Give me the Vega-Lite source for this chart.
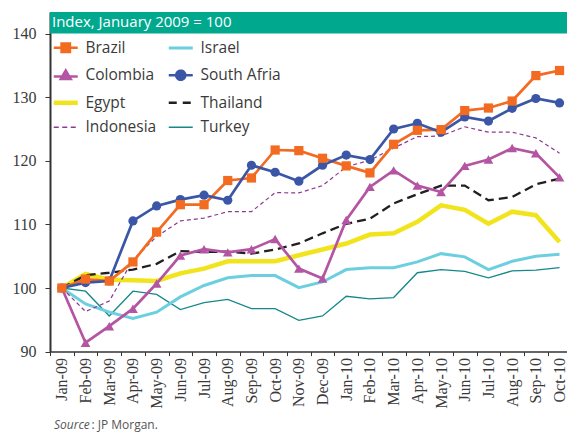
{
"$schema": "https://vega.github.io/schema/vega-lite/v6.json",
"width": 521.4,
"height": 339.6,
"autosize": {"type": "none"},
"padding": {"left": 50, "top": 12, "right": 0, "bottom": 82},
"background": "white",
"title": {"text": "Effective Exchange Rate for selected countries", "anchor": "start", "frame": "group", "orient": "top", "offset": 4, "baseline": "alphabetic", "font": "Open Sans", "fontSize": 17, "fontWeight": "bold", "color": "#231F20", "dx": 3},
"config": {"view": {"stroke": null}, "font": "Open Sans"},
"data": {"values": [
{"m":"Jan-09","s":"Brazil","v":100},{"m":"Feb-09","s":"Brazil","v":101.4},{"m":"Mar-09","s":"Brazil","v":101.1},{"m":"Apr-09","s":"Brazil","v":104.1},{"m":"May-09","s":"Brazil","v":108.8},{"m":"Jun-09","s":"Brazil","v":113.1},{"m":"Jul-09","s":"Brazil","v":113.1},{"m":"Aug-09","s":"Brazil","v":116.9},{"m":"Sep-09","s":"Brazil","v":117.3},{"m":"Oct-09","s":"Brazil","v":121.7},{"m":"Nov-09","s":"Brazil","v":121.6},{"m":"Dec-09","s":"Brazil","v":120.4},{"m":"Jan-10","s":"Brazil","v":119.2},{"m":"Feb-10","s":"Brazil","v":118.1},{"m":"Mar-10","s":"Brazil","v":122.6},{"m":"Apr-10","s":"Brazil","v":124.8},{"m":"May-10","s":"Brazil","v":124.9},{"m":"Jun-10","s":"Brazil","v":127.9},{"m":"Jul-10","s":"Brazil","v":128.3},{"m":"Aug-10","s":"Brazil","v":129.4},{"m":"Sep-10","s":"Brazil","v":133.4},{"m":"Oct-10","s":"Brazil","v":134.2},
{"m":"Jan-09","s":"South Afria","v":100},{"m":"Feb-09","s":"South Afria","v":100.85},{"m":"Mar-09","s":"South Afria","v":101.1},{"m":"Apr-09","s":"South Afria","v":110.55},{"m":"May-09","s":"South Afria","v":112.9},{"m":"Jun-09","s":"South Afria","v":113.9},{"m":"Jul-09","s":"South Afria","v":114.6},{"m":"Aug-09","s":"South Afria","v":113.8},{"m":"Sep-09","s":"South Afria","v":119.3},{"m":"Oct-09","s":"South Afria","v":118.2},{"m":"Nov-09","s":"South Afria","v":116.8},{"m":"Dec-09","s":"South Afria","v":119.3},{"m":"Jan-10","s":"South Afria","v":120.9},{"m":"Feb-10","s":"South Afria","v":120.2},{"m":"Mar-10","s":"South Afria","v":125.0},{"m":"Apr-10","s":"South Afria","v":125.9},{"m":"May-10","s":"South Afria","v":124.5},{"m":"Jun-10","s":"South Afria","v":126.9},{"m":"Jul-10","s":"South Afria","v":126.25},{"m":"Aug-10","s":"South Afria","v":128.25},{"m":"Sep-10","s":"South Afria","v":129.8},{"m":"Oct-10","s":"South Afria","v":129.1},
{"m":"Jan-09","s":"Colombia","v":100},{"m":"Feb-09","s":"Colombia","v":91.4},{"m":"Mar-09","s":"Colombia","v":94.0},{"m":"Apr-09","s":"Colombia","v":96.75},{"m":"May-09","s":"Colombia","v":100.7},{"m":"Jun-09","s":"Colombia","v":105.1},{"m":"Jul-09","s":"Colombia","v":106.1},{"m":"Aug-09","s":"Colombia","v":105.6},{"m":"Sep-09","s":"Colombia","v":106.1},{"m":"Oct-09","s":"Colombia","v":107.7},{"m":"Nov-09","s":"Colombia","v":103.05},{"m":"Dec-09","s":"Colombia","v":101.5},{"m":"Jan-10","s":"Colombia","v":110.7},{"m":"Feb-10","s":"Colombia","v":115.9},{"m":"Mar-10","s":"Colombia","v":118.5},{"m":"Apr-10","s":"Colombia","v":116.1},{"m":"May-10","s":"Colombia","v":115.1},{"m":"Jun-10","s":"Colombia","v":119.2},{"m":"Jul-10","s":"Colombia","v":120.2},{"m":"Aug-10","s":"Colombia","v":122.0},{"m":"Sep-10","s":"Colombia","v":121.2},{"m":"Oct-10","s":"Colombia","v":117.4},
{"m":"Jan-09","s":"Egypt","v":100},{"m":"Feb-09","s":"Egypt","v":102.2},{"m":"Mar-09","s":"Egypt","v":101.3},{"m":"Apr-09","s":"Egypt","v":101.2},{"m":"May-09","s":"Egypt","v":101.1},{"m":"Jun-09","s":"Egypt","v":102.3},{"m":"Jul-09","s":"Egypt","v":103.05},{"m":"Aug-09","s":"Egypt","v":104.2},{"m":"Sep-09","s":"Egypt","v":104.2},{"m":"Oct-09","s":"Egypt","v":104.2},{"m":"Nov-09","s":"Egypt","v":105.15},{"m":"Dec-09","s":"Egypt","v":106.05},{"m":"Jan-10","s":"Egypt","v":107.0},{"m":"Feb-10","s":"Egypt","v":108.4},{"m":"Mar-10","s":"Egypt","v":108.6},{"m":"Apr-10","s":"Egypt","v":110.4},{"m":"May-10","s":"Egypt","v":113.0},{"m":"Jun-10","s":"Egypt","v":112.3},{"m":"Jul-10","s":"Egypt","v":110.1},{"m":"Aug-10","s":"Egypt","v":112.0},{"m":"Sep-10","s":"Egypt","v":111.45},{"m":"Oct-10","s":"Egypt","v":107.25},
{"m":"Jan-09","s":"Israel","v":100},{"m":"Feb-09","s":"Israel","v":97.5},{"m":"Mar-09","s":"Israel","v":96.2},{"m":"Apr-09","s":"Israel","v":95.2},{"m":"May-09","s":"Israel","v":96.2},{"m":"Jun-09","s":"Israel","v":98.6},{"m":"Jul-09","s":"Israel","v":100.4},{"m":"Aug-09","s":"Israel","v":101.6},{"m":"Sep-09","s":"Israel","v":101.95},{"m":"Oct-09","s":"Israel","v":101.95},{"m":"Nov-09","s":"Israel","v":100.05},{"m":"Dec-09","s":"Israel","v":100.95},{"m":"Jan-10","s":"Israel","v":102.9},{"m":"Feb-10","s":"Israel","v":103.2},{"m":"Mar-10","s":"Israel","v":103.2},{"m":"Apr-10","s":"Israel","v":104.1},{"m":"May-10","s":"Israel","v":105.4},{"m":"Jun-10","s":"Israel","v":104.9},{"m":"Jul-10","s":"Israel","v":102.9},{"m":"Aug-10","s":"Israel","v":104.2},{"m":"Sep-10","s":"Israel","v":105.0},{"m":"Oct-10","s":"Israel","v":105.3},
{"m":"Jan-09","s":"Turkey","v":100},{"m":"Feb-09","s":"Turkey","v":99.5},{"m":"Mar-09","s":"Turkey","v":95.6},{"m":"Apr-09","s":"Turkey","v":99.5},{"m":"May-09","s":"Turkey","v":99.0},{"m":"Jun-09","s":"Turkey","v":96.6},{"m":"Jul-09","s":"Turkey","v":97.7},{"m":"Aug-09","s":"Turkey","v":98.2},{"m":"Sep-09","s":"Turkey","v":96.75},{"m":"Oct-09","s":"Turkey","v":96.75},{"m":"Nov-09","s":"Turkey","v":94.9},{"m":"Dec-09","s":"Turkey","v":95.6},{"m":"Jan-10","s":"Turkey","v":98.7},{"m":"Feb-10","s":"Turkey","v":98.3},{"m":"Mar-10","s":"Turkey","v":98.5},{"m":"Apr-10","s":"Turkey","v":102.4},{"m":"May-10","s":"Turkey","v":102.9},{"m":"Jun-10","s":"Turkey","v":102.6},{"m":"Jul-10","s":"Turkey","v":101.6},{"m":"Aug-10","s":"Turkey","v":102.7},{"m":"Sep-10","s":"Turkey","v":102.8},{"m":"Oct-10","s":"Turkey","v":103.2},
{"m":"Jan-09","s":"Thailand","v":100},{"m":"Feb-09","s":"Thailand","v":102.0},{"m":"Mar-09","s":"Thailand","v":102.4},{"m":"Apr-09","s":"Thailand","v":102.9},{"m":"May-09","s":"Thailand","v":103.8},{"m":"Jun-09","s":"Thailand","v":105.8},{"m":"Jul-09","s":"Thailand","v":105.7},{"m":"Aug-09","s":"Thailand","v":105.7},{"m":"Sep-09","s":"Thailand","v":105.4},{"m":"Oct-09","s":"Thailand","v":106.05},{"m":"Nov-09","s":"Thailand","v":107.0},{"m":"Dec-09","s":"Thailand","v":108.6},{"m":"Jan-10","s":"Thailand","v":110.1},{"m":"Feb-10","s":"Thailand","v":110.9},{"m":"Mar-10","s":"Thailand","v":113.3},{"m":"Apr-10","s":"Thailand","v":114.75},{"m":"May-10","s":"Thailand","v":116.1},{"m":"Jun-10","s":"Thailand","v":116.1},{"m":"Jul-10","s":"Thailand","v":113.8},{"m":"Aug-10","s":"Thailand","v":114.3},{"m":"Sep-10","s":"Thailand","v":116.3},{"m":"Oct-10","s":"Thailand","v":117.2},
{"m":"Jan-09","s":"Indonesia","v":100},{"m":"Feb-09","s":"Indonesia","v":96.3},{"m":"Mar-09","s":"Indonesia","v":97.95},{"m":"Apr-09","s":"Indonesia","v":104.4},{"m":"May-09","s":"Indonesia","v":108.1},{"m":"Jun-09","s":"Indonesia","v":110.55},{"m":"Jul-09","s":"Indonesia","v":111.0},{"m":"Aug-09","s":"Indonesia","v":112.0},{"m":"Sep-09","s":"Indonesia","v":112.0},{"m":"Oct-09","s":"Indonesia","v":115.0},{"m":"Nov-09","s":"Indonesia","v":114.95},{"m":"Dec-09","s":"Indonesia","v":116.1},{"m":"Jan-10","s":"Indonesia","v":119.05},{"m":"Feb-10","s":"Indonesia","v":120.1},{"m":"Mar-10","s":"Indonesia","v":122.0},{"m":"Apr-10","s":"Indonesia","v":123.8},{"m":"May-10","s":"Indonesia","v":123.9},{"m":"Jun-10","s":"Indonesia","v":125.35},{"m":"Jul-10","s":"Indonesia","v":124.5},{"m":"Aug-10","s":"Indonesia","v":124.5},{"m":"Sep-10","s":"Indonesia","v":123.6},{"m":"Oct-10","s":"Indonesia","v":121.2}
]},
"layer": [
{
"data": {"values": [{}]},
"mark": {"type": "rect", "color": "#00A88E"},
"encoding": {"y": {"datum": 140, "type": "quantitative"}, "y2": {"datum": 143.4}}
},
{
"data": {"values": [{}]},
"mark": {"type": "text", "align": "left", "baseline": "middle", "font": "Open Sans", "fontSize": 15, "fontWeight": 400, "color": "white", "dx": 2},
"encoding": {"x": {"datum": "Jan-09", "type": "ordinal", "bandPosition": 0}, "y": {"datum": 141.75, "type": "quantitative"}, "text": {"value": "Index, January 2009 = 100"}}
},
{
"data": {"values": [{}]},
"mark": {"type": "text", "align": "left", "baseline": "middle", "font": "Open Sans", "fontSize": 12, "fontWeight": 400, "fontStyle": "italic", "color": "#555555", "dx": 4},
"encoding": {"x": {"datum": "Jan-09", "type": "ordinal", "bandPosition": 0}, "y": {"datum": 78.4, "type": "quantitative"}, "text": {"value": "Source"}}
},
{
"data": {"values": [{}]},
"mark": {"type": "text", "align": "left", "baseline": "middle", "font": "Open Sans", "fontSize": 12, "fontWeight": 400, "color": "#555555", "dx": 41.5},
"encoding": {"x": {"datum": "Jan-09", "type": "ordinal", "bandPosition": 0}, "y": {"datum": 78.4, "type": "quantitative"}, "text": {"value": ": JP Morgan."}}
},
{
"encoding": {
"x": {"field": "m", "type": "ordinal", "bandPosition": 0.5,
"sort": ["Jan-09","Feb-09","Mar-09","Apr-09","May-09","Jun-09","Jul-09","Aug-09","Sep-09","Oct-09","Nov-09","Dec-09","Jan-10","Feb-10","Mar-10","Apr-10","May-10","Jun-10","Jul-10","Aug-10","Sep-10","Oct-10"],
"scale": {"type": "band", "paddingInner": 0, "paddingOuter": 0},
"axis": {"title": null, "tickBand": "extent", "labelAngle": -90, "labelFont": "Liberation Sans Narrow", "labelFontSize": 16, "labelColor": "#3a3a3a", "domainColor": "#333333", "domainWidth": 1.5, "tickColor": "#333333", "tickSize": 4, "labelPadding": 2, "grid": false}},
"y": {"field": "v", "type": "quantitative", "scale": {"domain": [90, 143.4], "nice": false, "zero": false},
"axis": {"title": null, "values": [90,95,100,105,110,115,120,125,130,135,140], "labelFont": "Liberation Sans Narrow", "labelFontSize": 16, "labelColor": "#3a3a3a", "domainColor": "#333333", "domainWidth": 2, "tickColor": "#333333", "tickSize": 5, "labelPadding": 9, "grid": false}},
"color": {"field": "s", "type": "nominal",
"scale": {"domain": ["Brazil","Colombia","Egypt","Indonesia","Israel","South Afria","Thailand","Turkey"], "range": ["#F26B21","#B455A3","#F2E41C","#8B3A8F","#6CCFE0","#3B56A6","#231F20","#15888A"]},
"legend": {"title": null, "orient": "none", "legendX": 8, "legendY": 28, "columns": 2, "columnPadding": 5, "rowPadding": 7.5, "symbolSize": 576, "labelFont": "Open Sans", "labelFontSize": 15.5, "labelColor": "#3a3a3a", "labelOffset": 12, "padding": 0,
"encode": {"symbols": {"update": {
"shape": {"signal": "datum.value==='Brazil' ? 'M-1,0H1M-0.35,-0.35H0.35V0.35H-0.35Z' : datum.value==='Colombia' ? 'M-1,0.1H1M0,-0.4L0.42,0.32H-0.42Z' : datum.value==='South Afria' ? 'M-1,0H1M0.38,0A0.38,0.38 0 1,1 -0.38,0A0.38,0.38 0 1,1 0.38,0Z' : 'M-1,0H1'"},
"strokeDash": {"signal": "datum.value==='Thailand' ? [8,6] : datum.value==='Indonesia' ? [5,3.5] : [1,0]"},
"strokeWidth": {"signal": "datum.value==='Egypt' ? 4.5 : datum.value==='Israel' ? 3 : (datum.value==='Indonesia' || datum.value==='Turkey') ? 1.3 : 2.5"},
"fill": {"signal": "(datum.value==='Brazil' || datum.value==='Colombia' || datum.value==='South Afria') ? scale('color', datum.value) : 'transparent'"},
"stroke": {"signal": "scale('color', datum.value)"},
"opacity": {"value": 1}
}}}}}
},
"layer": [
{"transform": [{"filter": {"field": "s", "equal": "Turkey"}}], "mark": {"type": "line", "strokeWidth": 1.3}},
{"transform": [{"filter": {"field": "s", "equal": "Israel"}}], "mark": {"type": "line", "strokeWidth": 3}},
{"transform": [{"filter": {"field": "s", "equal": "Egypt"}}], "mark": {"type": "line", "strokeWidth": 4.5}},
{"transform": [{"filter": {"field": "s", "equal": "Thailand"}}], "mark": {"type": "line", "strokeWidth": 2.3, "strokeDash": [9, 5]}},
{"transform": [{"filter": {"field": "s", "equal": "Indonesia"}}], "mark": {"type": "line", "strokeWidth": 1.2, "strokeDash": [4, 3]}},
{"transform": [{"filter": {"field": "s", "oneOf": ["Colombia","South Afria","Brazil"]}}], "mark": {"type": "line", "strokeWidth": 2.7}},
{"transform": [{"filter": {"field": "s", "equal": "Colombia"}}], "mark": {"type": "point", "shape": "triangle-up", "filled": true, "opacity": 1, "size": 95}},
{"transform": [{"filter": {"field": "s", "equal": "South Afria"}}], "mark": {"type": "point", "shape": "circle", "filled": true, "opacity": 1, "size": 85}},
{"transform": [{"filter": {"field": "s", "equal": "Brazil"}}], "mark": {"type": "point", "shape": "square", "filled": true, "opacity": 1, "size": 85}}
]
}
]
}
